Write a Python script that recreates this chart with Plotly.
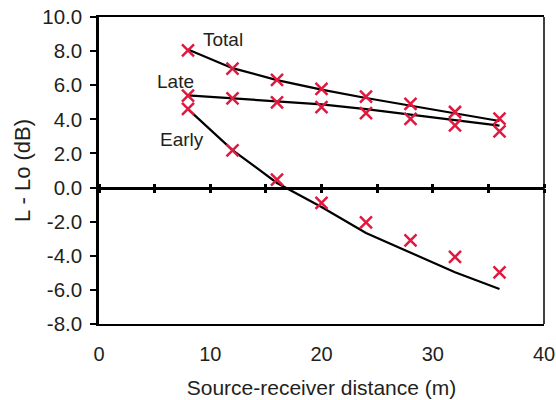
import plotly.graph_objects as go

distance = [8, 12, 16, 20, 24, 28, 32, 36]
total_meas = [8.05, 6.97, 6.32, 5.78, 5.33, 4.90, 4.43, 4.04]
late_meas = [5.39, 5.23, 4.99, 4.72, 4.37, 4.02, 3.65, 3.30]
early_meas = [4.62, 2.18, 0.46, -0.90, -2.04, -3.10, -4.07, -4.97]

total_model = [8.1, 7.0, 6.3, 5.74, 5.25, 4.80, 4.37, 3.90]
late_model = [5.40, 5.22, 5.05, 4.88, 4.60, 4.27, 3.94, 3.63]
early_model = [4.60, 2.20, 0.27, -1.14, -2.66, -3.83, -4.97, -5.95]

labels = ["Total", "Late", "Early"]
label_x = [11.15, 6.9, 7.5]
label_y = [8.67, 6.23, 2.8]

y_ticks = [10, 8, 6, 4, 2, 0, -2, -4, -6, -8]
x_ticks = [0, 10, 20, 30, 40]
x_minor = [0, 5, 10, 15, 20, 25, 30, 35, 40]

RED = "#E2183F"
FONT = "Liberation Sans, Arial, sans-serif"
TXT = "#231F20"

fig = go.Figure()
for ym in [total_model, late_model, early_model]:
    fig.add_trace(go.Scatter(x=distance, y=ym, mode="lines",
                             line=dict(color="black", width=2.2), showlegend=False))
for ys in [total_meas, late_meas, early_meas]:
    fig.add_trace(go.Scatter(x=distance, y=ys, mode="markers",
                             marker=dict(symbol="x-thin", size=12, line=dict(color=RED, width=2.5)),
                             showlegend=False))

for t, x, y in zip(labels, label_x, label_y):
    fig.add_annotation(x=x, y=y, text=t, showarrow=False,
                       font=dict(family=FONT, size=19, color=TXT))

# zero axis with crossing ticks
fig.add_trace(go.Scatter(x=[0, 40], y=[0, 0], mode="lines", line=dict(width=0),
                         xaxis="x2", showlegend=False, hoverinfo="skip"))
fig.add_trace(go.Scatter(x=[0, 40], y=[0, 0], mode="lines", line=dict(width=0),
                         xaxis="x3", showlegend=False, hoverinfo="skip"))

zero_pos = 8 / 18

fig.update_layout(
    width=556, height=400,
    margin=dict(l=99, r=12, t=17, b=76),
    paper_bgcolor="white", plot_bgcolor="white",
    font=dict(family=FONT, size=19, color=TXT),
    xaxis=dict(range=[0, 40], tickvals=x_ticks, ticktext=[str(v) for v in x_ticks],
               automargin=False,
               showgrid=False, zeroline=False, showline=True, linecolor="black",
               linewidth=1.5, mirror=True, ticks="outside", ticklen=11,
               tickcolor="rgba(0,0,0,0)", tickfont=dict(size=20),
               title=dict(text="Source-receiver distance (m)", standoff=17,
                          font=dict(size=21))),
    xaxis2=dict(range=[0, 40], overlaying="x", anchor="free", position=zero_pos,
                side="bottom", tickvals=x_minor, showticklabels=False, ticks="outside",
                ticklen=4, tickwidth=2.5, tickcolor="black", showgrid=False, automargin=False,
                zeroline=False, showline=True, linecolor="black", linewidth=2.5),
    xaxis3=dict(range=[0, 40], overlaying="x", anchor="free", position=zero_pos,
                side="top", tickvals=x_minor, showticklabels=False, ticks="outside",
                ticklen=4, tickwidth=2.5, tickcolor="black", showgrid=False, automargin=False,
                zeroline=False, showline=False),
    yaxis=dict(range=[-8, 10], tickvals=y_ticks, ticktext=[f"{v:.1f}" for v in y_ticks],
               automargin=False, tickfont=dict(size=20.5), ticklabelstandoff=4,
               showgrid=False, zeroline=False, showline=True, linecolor="black",
               linewidth=2.5, ticks="outside", ticklen=6, tickwidth=2, tickcolor="black",
               title=dict(text="L - Lo (dB)", standoff=6, font=dict(size=22))),
)
fig.add_shape(type="line", xref="paper", yref="paper", x0=1, x1=1, y0=0, y1=1,
              line=dict(color="black", width=1.5))

fig.write_html("out.html")
